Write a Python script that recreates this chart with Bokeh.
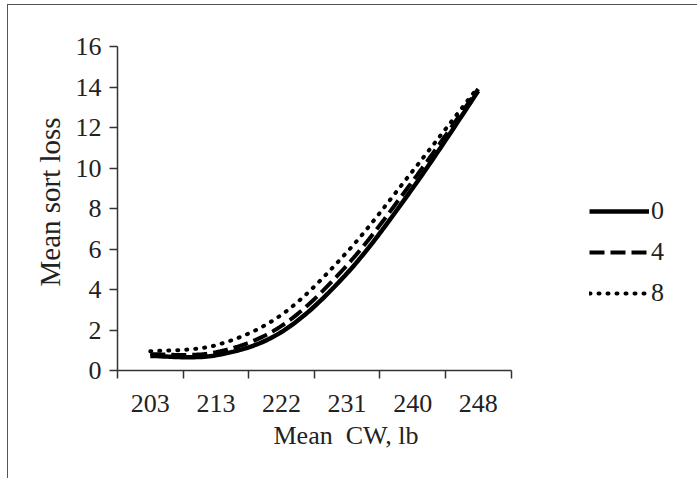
import numpy as np
from bokeh.plotting import figure
from bokeh.models import FixedTicker, Legend, LegendItem, Title
from bokeh.embed import file_html
from bokeh.resources import INLINE

categories = ["203", "213", "222", "231", "240", "248"]
series_names = ["0", "4", "8"]
loss_0 = [0.72, 0.75, 1.9, 4.8, 9.0, 13.8]
loss_4 = [0.80, 0.90, 2.2, 5.2, 9.35, 13.9]
loss_8 = [0.95, 1.25, 2.75, 5.85, 9.85, 14.0]
y_ticks = [0, 2, 4, 6, 8, 10, 12, 14, 16]

FONT = "Liberation Serif"
FS = "26px"

def smooth(xs, ys, n=30):
    # Catmull-Rom rendering of a smoothed line through the data points
    P = np.column_stack([xs, ys]).astype(float)
    P = np.vstack([P[0], P, P[-1]])
    out = []
    for i in range(1, len(P) - 2):
        p0, p1, p2, p3 = P[i - 1], P[i], P[i + 1], P[i + 2]
        t = np.linspace(0, 1, n, endpoint=(i == len(P) - 3))[:, None]
        pts = 0.5 * ((2 * p1) + (-p0 + p2) * t + (2 * p0 - 5 * p1 + 4 * p2 - p3) * t**2
                     + (-p0 + 3 * p1 - 3 * p2 + p3) * t**3)
        out.append(pts)
    out = np.vstack(out)
    return out[:, 0], out[:, 1]

ncat = len(categories)
xpos = [i + 0.5 for i in range(ncat)]
unit_px = 393.5 / ncat
frame_w = 690 - 109
x_end = frame_w / unit_px

p = figure(width=690, height=474, x_range=(0, x_end), y_range=(0, 16),
           output_backend="svg", toolbar_location=None,
           min_border_left=109, min_border_right=0, min_border_top=41, min_border_bottom=109)
p.margin = (4, 0, 0, 7)
p.styles = {"border-top": "1.5px solid #555", "border-left": "1.5px solid #555"}
p.outline_line_color = None
p.grid.visible = False
p.background_fill_color = "white"
p.border_fill_color = "white"

xa = p.xaxis[0]
xa.bounds = (0, ncat)
xa.ticker = FixedTicker(ticks=xpos, minor_ticks=list(range(ncat + 1)))
xa.major_label_overrides = {x: c for x, c in zip(xpos, categories)}
xa.major_tick_out = 0
xa.major_tick_in = 0
xa.minor_tick_out = 8
xa.minor_tick_in = 0
xa.minor_tick_line_color = "#333"
xa.minor_tick_line_width = 1.5
xa.axis_line_color = "#333"
xa.axis_line_width = 1.5
xa.major_label_standoff = 16

ya = p.yaxis[0]
ya.ticker = FixedTicker(ticks=y_ticks, minor_ticks=[])
ya.major_tick_out = 8
ya.major_tick_in = 0
ya.major_tick_line_color = "#333"
ya.major_tick_line_width = 1.5
ya.axis_line_color = "#333"
ya.axis_line_width = 1.5
ya.major_label_standoff = 8

for ax in (xa, ya):
    ax.major_label_text_font = FONT
    ax.major_label_text_font_size = FS
    ax.major_label_text_color = "#222"

xt = Title(text="Mean\u00a0 CW, lb", align="left", offset=156, standoff=9,
           text_font=FONT, text_font_size=FS, text_font_style="normal", text_color="#222")
p.add_layout(xt, "below")
yt = Title(text="Mean sort loss", align="left", offset=84, standoff=14,
           text_font=FONT, text_font_size="29px", text_font_style="normal", text_color="#222")
p.add_layout(yt, "left")

x0, y0 = smooth(xpos, loss_0)
x4, y4 = smooth(xpos, loss_4)
x8, y8 = smooth(xpos, loss_8)

r0 = p.line(x0, y0, line_color="black", line_width=4.5)
r4 = p.line(x4, y4, line_color="black", line_width=4, line_dash="15 6")
r8 = p.line(x8, y8, line_color="black", line_width=4, line_dash="1 8", line_cap="round")

legend = Legend(items=[LegendItem(label=series_names[0], renderers=[r0]),
                       LegendItem(label=series_names[1], renderers=[r4]),
                       LegendItem(label=series_names[2], renderers=[r8])],
                location=(472, 62), glyph_width=60, glyph_height=30, label_height=30,
                spacing=11, padding=0, margin=0, label_standoff=2,
                label_text_font=FONT, label_text_font_size=FS, label_text_color="#222",
                border_line_color=None, background_fill_alpha=0)
p.add_layout(legend, "center")

open("out.html", "w").write(file_html(p, INLINE))
